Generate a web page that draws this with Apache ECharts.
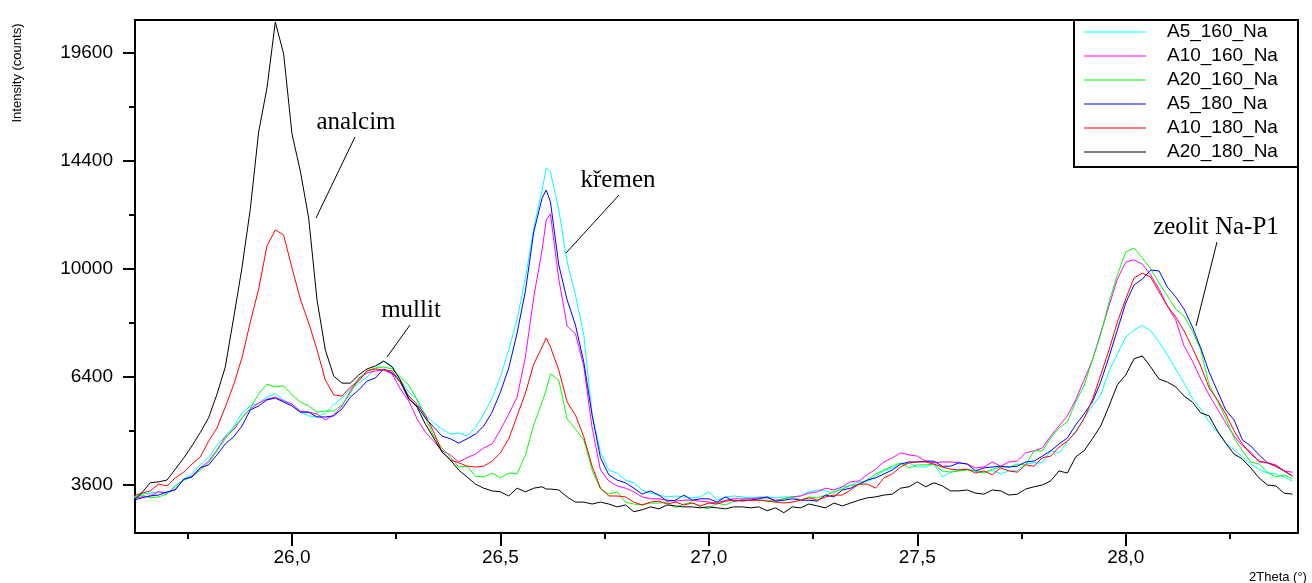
<!DOCTYPE html>
<html>
<head>
<meta charset="utf-8">
<title>XRD</title>
<script src="https://cdn.jsdelivr.net/npm/echarts@6/dist/echarts.min.js"></script>
<style>
html, body { margin: 0; padding: 0; background: #fff; }
#xrd-chart { width: 1312px; height: 583px; }
</style>
</head>
<body>
<div id="xrd-chart"></div>
<script>
// 2Theta (deg), one extra point at 26.61 for the quartz peak top
const twoTheta = [
  25.62, 25.64, 25.66, 25.68, 25.70, 25.72, 25.74, 25.76, 25.78, 25.80,
  25.82, 25.84, 25.86, 25.88, 25.90, 25.92, 25.94, 25.96, 25.98, 26.00,
  26.02, 26.04, 26.06, 26.08, 26.10, 26.12, 26.14, 26.16, 26.18, 26.20,
  26.22, 26.24, 26.26, 26.28, 26.30, 26.32, 26.34, 26.36, 26.38, 26.40,
  26.42, 26.44, 26.46, 26.48, 26.50, 26.52, 26.54, 26.56, 26.58, 26.60,
  26.61,
  26.62, 26.64, 26.66, 26.68, 26.70, 26.72, 26.74, 26.76, 26.78, 26.80,
  26.82, 26.84, 26.86, 26.88, 26.90, 26.92, 26.94, 26.96, 26.98, 27.00,
  27.02, 27.04, 27.06, 27.08, 27.10, 27.12, 27.14, 27.16, 27.18, 27.20,
  27.22, 27.24, 27.26, 27.28, 27.30, 27.32, 27.34, 27.36, 27.38, 27.40,
  27.42, 27.44, 27.46, 27.48, 27.50, 27.52, 27.54, 27.56, 27.58, 27.60,
  27.62, 27.64, 27.66, 27.68, 27.70, 27.72, 27.74, 27.76, 27.78, 27.80,
  27.82, 27.84, 27.86, 27.88, 27.90, 27.92, 27.94, 27.96, 27.98, 28.00,
  28.02, 28.04, 28.06, 28.08, 28.10, 28.12, 28.14, 28.16, 28.18, 28.20,
  28.22, 28.24, 28.26, 28.28, 28.30, 28.32, 28.34, 28.36, 28.38, 28.40
]

// intensities (counts)
const a5_160 = [
  3340, 3400, 3420, 3450, 3420, 3560, 3730, 3850, 4060, 4230,
  4540, 4770, 5000, 5380, 5570, 5650, 5820, 5910, 5740, 5620,
  5400, 5300, 5270, 5380, 5600, 5790, 6050, 6220, 6400, 6640,
  6880, 6730, 6310, 5960, 5760, 5320, 5110, 4950, 4820, 4850,
  4770, 4980, 5350, 5790, 6400, 7230, 8230, 9670, 11580, 13140,
  14090,
  13920, 12310, 10260, 9060, 7710, 5320, 4370, 3940, 3870, 3710,
  3650, 3490, 3420, 3380, 3340, 3360, 3340, 3320, 3340, 3450,
  3270, 3340, 3360, 3340, 3320, 3340, 3340, 3320, 3340, 3340,
  3360, 3450, 3490, 3470, 3420, 3560, 3580, 3670, 3670, 3800,
  3920, 3990, 4080, 4110, 4010, 4010, 4080, 3780, 3890, 3960,
  3960, 3920, 3890, 3940, 3850, 3920, 3920, 4080, 4110, 4110,
  4400, 4350, 4620, 4900, 5240, 5570, 5880, 6580, 7100, 7640,
  7870, 8030, 7840, 7480, 7070, 6640, 6220, 5790, 5490, 5140,
  4870, 4590, 4420, 4250, 4080, 3960, 3870, 3850, 3780, 3690
]
const a10_160 = [
  3320, 3340, 3360, 3450, 3420, 3510, 3710, 3800, 3990, 4150,
  4420, 4750, 4930, 5240, 5490, 5650, 5760, 5820, 5710, 5620,
  5430, 5400, 5350, 5190, 5320, 5570, 5990, 6370, 6520, 6580,
  6610, 6490, 6050, 5710, 5220, 4870, 4640, 4400, 4300, 4130,
  4230, 4320, 4470, 4570, 4930, 5350, 5820, 7010, 8990, 10720,
  11900,
  12150, 9630, 8000, 7740, 6730, 4980, 3940, 3690, 3580, 3530,
  3450, 3340, 3300, 3300, 3270, 3250, 3270, 3270, 3250, 3230,
  3210, 3270, 3300, 3300, 3300, 3320, 3320, 3270, 3300, 3340,
  3360, 3420, 3450, 3530, 3490, 3560, 3670, 3690, 3830, 3960,
  4130, 4230, 4350, 4300, 4270, 4150, 4110, 4130, 4130, 4110,
  4080, 3990, 4010, 4130, 4030, 4130, 4150, 4350, 4400, 4470,
  4770, 5030, 5300, 5740, 6310, 6910, 7770, 8680, 9630, 10260,
  10340, 10180, 9780, 9270, 8680, 8200, 7350, 6880, 6340, 5880,
  5490, 5110, 4770, 4520, 4370, 4130, 4110, 4060, 3920, 3890
]
const a20_160 = [
  3320, 3380, 3320, 3340, 3400, 3580, 3710, 3780, 3940, 4110,
  4400, 4700, 4980, 5240, 5510, 5910, 6190, 6110, 6140, 5880,
  5680, 5570, 5400, 5430, 5430, 5600, 5930, 6340, 6580, 6670,
  6700, 6640, 6400, 6170, 5740, 5240, 4770, 4470, 4250, 4010,
  4030, 3800, 3780, 3870, 3760, 3870, 3850, 4300, 5060, 5680,
  6020,
  6490, 6310, 5220, 4950, 4670, 3940, 3510, 3400, 3450, 3230,
  3190, 3170, 3210, 3210, 3230, 3110, 3190, 3230, 3130, 3090,
  3210, 3170, 3250, 3270, 3270, 3270, 3270, 3250, 3300, 3340,
  3270, 3340, 3320, 3380, 3450, 3510, 3600, 3600, 3710, 3850,
  3940, 4030, 4110, 3990, 4060, 4060, 4080, 3920, 3890, 3920,
  3940, 3920, 3870, 3960, 4010, 4010, 4080, 4060, 4400, 4400,
  4720, 4980, 5140, 5680, 6140, 6910, 7710, 8820, 9780, 10640,
  10790, 10410, 10000, 9490, 9030, 8570, 8330, 7840, 7230, 6170,
  5710, 5240, 4720, 4400, 4130, 4080, 3890, 3780, 3830, 3740
]
const a5_180 = [
  3270, 3320, 3360, 3380, 3450, 3490, 3730, 3780, 3990, 4060,
  4300, 4570, 4750, 5030, 5460, 5570, 5740, 5790, 5680, 5570,
  5400, 5400, 5270, 5270, 5300, 5490, 5820, 6020, 6280, 6370,
  6640, 6520, 6250, 5760, 5570, 5240, 5000, 4770, 4700, 4590,
  4700, 4820, 5030, 5400, 5960, 6670, 7770, 9200, 11420, 12800,
  13140,
  12640, 10150, 8890, 8030, 6850, 5320, 4230, 3830, 3710, 3650,
  3530, 3400, 3470, 3380, 3250, 3270, 3380, 3270, 3300, 3300,
  3230, 3340, 3250, 3270, 3270, 3300, 3340, 3250, 3270, 3300,
  3270, 3270, 3250, 3380, 3340, 3490, 3530, 3620, 3710, 3760,
  3850, 3940, 4080, 4130, 4130, 4150, 4150, 4030, 4030, 4110,
  4080, 3920, 3990, 4010, 4030, 4010, 4030, 4130, 4150, 4270,
  4400, 4570, 4720, 5060, 5350, 5680, 6250, 7010, 7870, 8780,
  9420, 9630, 9960, 9930, 9340, 8990, 8570, 7970, 7290, 6550,
  5990, 5460, 5190, 4670, 4520, 4300, 4110, 4030, 3920, 3800
]
const a10_180 = [
  3360, 3420, 3470, 3620, 3580, 3760, 3890, 4080, 4250, 4640,
  4980, 5540, 6170, 6980, 8130, 9270, 10870, 11500, 11300, 10040,
  8920, 8100, 7230, 6310, 5880, 5850, 6100, 6280, 6580, 6640,
  6610, 6580, 6250, 5850, 5620, 5320, 4870, 4370, 4180, 4110,
  4030, 4010, 4030, 4150, 4350, 4700, 5300, 5930, 6790, 7320,
  7610,
  7320, 6610, 5680, 5320, 4750, 4030, 3530, 3360, 3360, 3340,
  3230, 3170, 3230, 3250, 3190, 3230, 3170, 3210, 3150, 3210,
  3190, 3250, 3270, 3250, 3270, 3270, 3250, 3230, 3210, 3230,
  3270, 3320, 3270, 3340, 3380, 3380, 3490, 3620, 3620, 3530,
  3760, 3850, 4010, 4110, 4130, 4130, 4080, 4010, 3960, 3940,
  3960, 3870, 3920, 3830, 3990, 3920, 3890, 4060, 4030, 4230,
  4270, 4490, 4640, 4870, 5220, 5740, 6460, 7230, 8130, 8920,
  9670, 9850, 9700, 9170, 8680, 8300, 7840, 7290, 6730, 6080,
  5740, 5350, 4900, 4570, 4320, 4150, 4110, 4030, 3920, 3800
]
const a20_180 = [
  3260, 3430, 3650, 3670, 3710, 3960, 4220, 4520, 4860, 5250,
  5900, 6700, 8270, 10040, 12350, 15720, 17830, 21240, 19550, 15630,
  13960, 11980, 8890, 7230, 6430, 6220, 6220, 6460, 6640, 6730,
  6880, 6700, 6310, 5790, 5540, 5080, 4720, 4370, 4180, 3940,
  3780, 3620, 3530, 3470, 3450, 3360, 3530, 3450, 3530, 3560,
  3510,
  3510, 3490, 3340, 3230, 3230, 3190, 3230, 3190, 3130, 3170,
  3030, 3070, 3130, 3090, 3170, 3150, 3130, 3130, 3110, 3130,
  3110, 3090, 3130, 3130, 3110, 3130, 3050, 3110, 3010, 3130,
  3110, 3190, 3150, 3110, 3210, 3150, 3210, 3270, 3320, 3340,
  3380, 3400, 3530, 3560, 3670, 3560, 3650, 3580, 3470, 3470,
  3490, 3420, 3400, 3490, 3470, 3380, 3400, 3510, 3560, 3600,
  3690, 3920, 3870, 4250, 4400, 4700, 5030, 5570, 6170, 6460,
  6950, 7040, 6700, 6340, 6250, 6110, 5850, 5680, 5380, 5300,
  4900, 4590, 4320, 4200, 3990, 3760, 3600, 3580, 3420, 3400
]

const seriesNames = ['A5_160_Na', 'A10_160_Na', 'A20_160_Na', 'A5_180_Na', 'A10_180_Na', 'A20_180_Na']
const seriesValues = [a5_160, a10_160, a20_160, a5_180, a10_180, a20_180]
const seriesColors = ['#00ffff', '#ff00ff', '#00ff00', '#0000ff', '#ff0000', '#000000']

// tick positions (counts axis is drawn on a square-root scale)
const yTicks = [3600, 6400, 10000, 14400, 19600]
const yMinorTicks = [4900, 8100, 12100, 16900]
const xTicks = [26, 26.5, 27, 27.5, 28]
const xMinorTicks = [25.75, 26.25, 26.75, 27.25, 27.75, 28.25]

const sansFont = '"Liberation Sans", Arial, sans-serif'
const serifFont = '"Liberation Serif", "Times New Roman", serif'

const xrdChart = echarts.init(document.getElementById('xrd-chart'))

const xMin = 25.6234
const xMax = 28.4133
const yMin = 51.11
const yMax = 146.11

const series = seriesNames.map((name, k) => {
  return {
    name: name,
    type: 'line',
    symbol: 'none',
    showSymbol: false,
    animation: false,
    color: seriesColors[k],
    lineStyle: { width: 1, color: seriesColors[k] },
    data: twoTheta.map((t, i) => [t, Math.sqrt(seriesValues[k][i])])
  }
})

function label (text, x, y) {
  return {
    type: 'text',
    x: x,
    y: y,
    z: 10,
    style: {
      text: text,
      font: '25px ' + serifFont,
      fill: '#000',
      align: 'center',
      verticalAlign: 'middle',
      textAlign: 'center',
      textVerticalAlign: 'middle'
    }
  }
}

function leader (x1, y1, x2, y2) {
  return {
    type: 'line',
    z: 10,
    shape: { x1: x1, y1: y1, x2: x2, y2: y2 },
    style: { stroke: '#000', lineWidth: 1 }
  }
}

const option = {
  animation: false,
  backgroundColor: '#fff',
  grid: {
    left: 135,
    right: 14,
    top: 20,
    bottom: 50,
    show: true,
    borderColor: '#000',
    borderWidth: 2,
    backgroundColor: 'transparent'
  },
  legend: {
    orient: 'vertical',
    left: 1084,
    top: 22,
    padding: 0,
    icon: 'rect',
    itemWidth: 62,
    itemHeight: 1,
    itemGap: 4,
    z: 20,
    data: seriesNames,
    textStyle: {
      fontFamily: sansFont,
      fontSize: 19,
      lineHeight: 20,
      color: '#000',
      padding: [0, 0, 0, 16]
    }
  },
  xAxis: [
    {
      type: 'value',
      min: xMin,
      max: xMax,
      position: 'bottom',
      axisLine: { show: true, lineStyle: { color: '#000', width: 2 } },
      axisTick: { show: true, length: 13, customValues: xTicks, lineStyle: { color: '#000', width: 2 } },
      axisLabel: {
        show: true,
        customValues: xTicks,
        margin: 15,
        fontFamily: sansFont,
        fontSize: 19,
        color: '#000',
        formatter: v => v.toFixed(1).replace('.', ',')
      },
      splitLine: { show: false }
    },
    {
      type: 'value',
      min: xMin,
      max: xMax,
      position: 'bottom',
      axisLine: { show: false },
      axisTick: { show: true, length: 6, customValues: xMinorTicks, lineStyle: { color: '#000', width: 2 } },
      axisLabel: { show: false },
      splitLine: { show: false }
    }
  ],
  yAxis: [
    {
      type: 'value',
      min: yMin,
      max: yMax,
      position: 'left',
      axisLine: { show: true, lineStyle: { color: '#000', width: 2 } },
      axisTick: { show: true, length: 12, customValues: yTicks.map(Math.sqrt), lineStyle: { color: '#000', width: 2 } },
      axisLabel: {
        show: true,
        customValues: yTicks.map(Math.sqrt),
        margin: 22,
        fontFamily: sansFont,
        fontSize: 19,
        color: '#000',
        formatter: v => String(Math.round(v * v))
      },
      splitLine: { show: false }
    },
    {
      type: 'value',
      min: yMin,
      max: yMax,
      position: 'left',
      axisLine: { show: false },
      axisTick: { show: true, length: 6, customValues: yMinorTicks.map(Math.sqrt), lineStyle: { color: '#000', width: 2 } },
      axisLabel: { show: false },
      splitLine: { show: false }
    }
  ],
  graphic: [
    {
      type: 'rect',
      z: 15,
      shape: { x: 1074, y: 20, width: 224, height: 147 },
      style: { fill: '#fff', stroke: '#000', lineWidth: 2 }
    },
    {
      type: 'text',
      x: 17,
      y: 73,
      rotation: Math.PI / 2,
      style: {
        text: 'Intensity (counts)',
        font: '13px ' + sansFont,
        fill: '#000',
        align: 'center',
        verticalAlign: 'middle',
        textAlign: 'center',
        textVerticalAlign: 'middle'
      }
    },
    {
      type: 'text',
      x: 1249,
      y: 577,
      style: {
        text: '2Theta (°)',
        font: '13px ' + sansFont,
        fill: '#000',
        align: 'left',
        verticalAlign: 'middle',
        textAlign: 'left',
        textVerticalAlign: 'middle'
      }
    },
    label('analcim', 356, 122),
    leader(355, 137, 316, 218),
    label('mullit', 411, 310),
    leader(410, 325, 387, 357),
    label('křemen', 618, 180),
    leader(619, 195, 566, 253),
    label('zeolit Na-P1', 1216, 227),
    leader(1217, 242, 1196, 326)
  ],
  series: series
}

xrdChart.setOption(option)
</script>
</body>
</html>
